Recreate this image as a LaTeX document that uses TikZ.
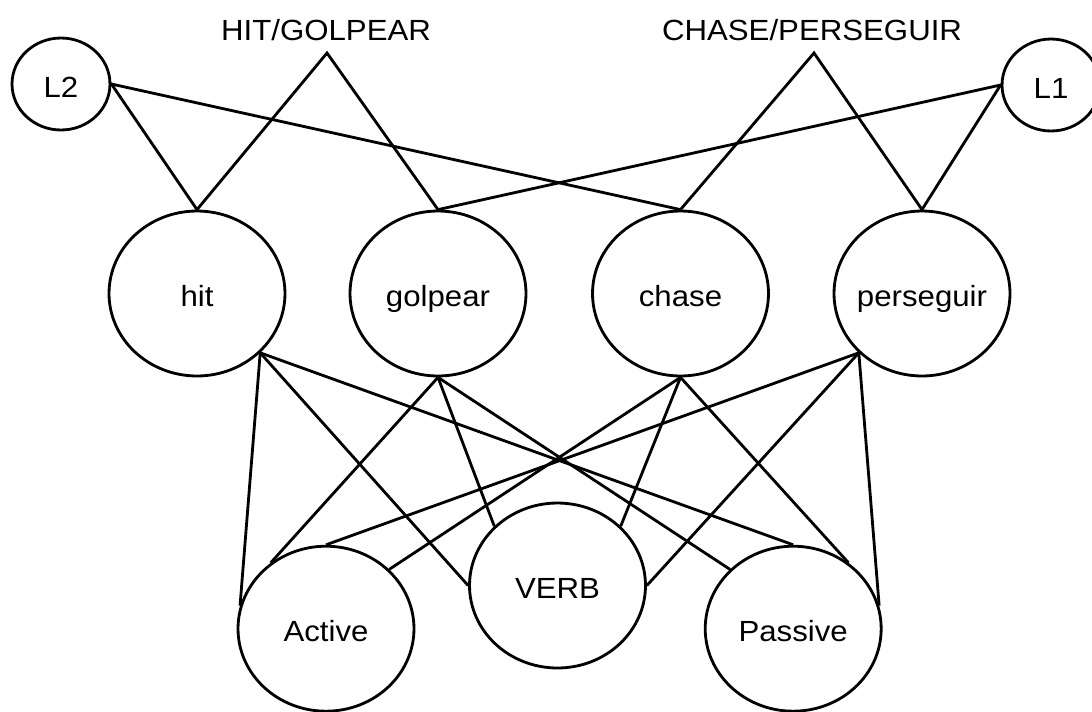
\documentclass[tikz,border=0pt]{standalone}
\usepackage{fontspec}
\setmainfont[FakeStretch=1.07]{Liberation Sans}
\usetikzlibrary{shapes}

\begin{document}
\begin{tikzpicture}[x=0.02cm,y=-0.02cm,font=\fontsize{16.6}{20}\selectfont,
    word/.style={draw,ellipse,line width=1.6pt,inner sep=0pt,
      minimum width=3.52cm,minimum height=3.3cm,text height=14.8pt,text depth=0pt},
    lang/.style={word,minimum width=1.96cm,minimum height=1.84cm},
    link/.style={line width=1.6pt,line join=miter}]
    \useasboundingbox(0,0)rectangle(1092,711);
    \foreach \n/\x/\y in {hit/197/293.5, golpear/438/293.5, chase/680.5/293.5, perseguir/922/293.5,
      Active/326/628.7, VERB/557.5/585.5, Passive/793.2/628.7}{
      \node[word](\n) at(\x,\y){\makebox[0pt]{\n}};
    }
    \node[lang](L2) at(61,84){\makebox[0pt]{L2}};
    \node[lang](L1) at(1051,85){\makebox[0pt]{L1}};
    % translation pairs
    \coordinate(hg) at(327,53);
    \coordinate(cp) at(814,53);
    \node[anchor=base](hgtext) at(326,40.7){HIT/GOLPEAR};
    \node[anchor=base](cptext) at(812,40.7){CHASE/PERSEGUIR};
    \draw[link](hit.north)--(hg)--(golpear.north);
    \draw[link](chase.north)--(cp)--(perseguir.north);
    \draw[link](hit.north)--(L2.east)--(chase.north);
    \draw[link](golpear.north)--(L1.west)--(perseguir.north);
    % lexical links
    \foreach \a/\b in {hit.south east/Active.165, hit.south east/VERB.west, hit.south east/Passive.north,
      golpear.south/Active.130, golpear.south/VERB.north west, golpear.south/Passive.north west,
      chase.south/Active.north east, chase.south/VERB.north east, chase.south/Passive.50,
      perseguir.south west/Active.north, perseguir.south west/VERB.east, perseguir.south west/Passive.15}{
      \draw[link](\a)--(\b);
    }
\end{tikzpicture}
\end{document}
